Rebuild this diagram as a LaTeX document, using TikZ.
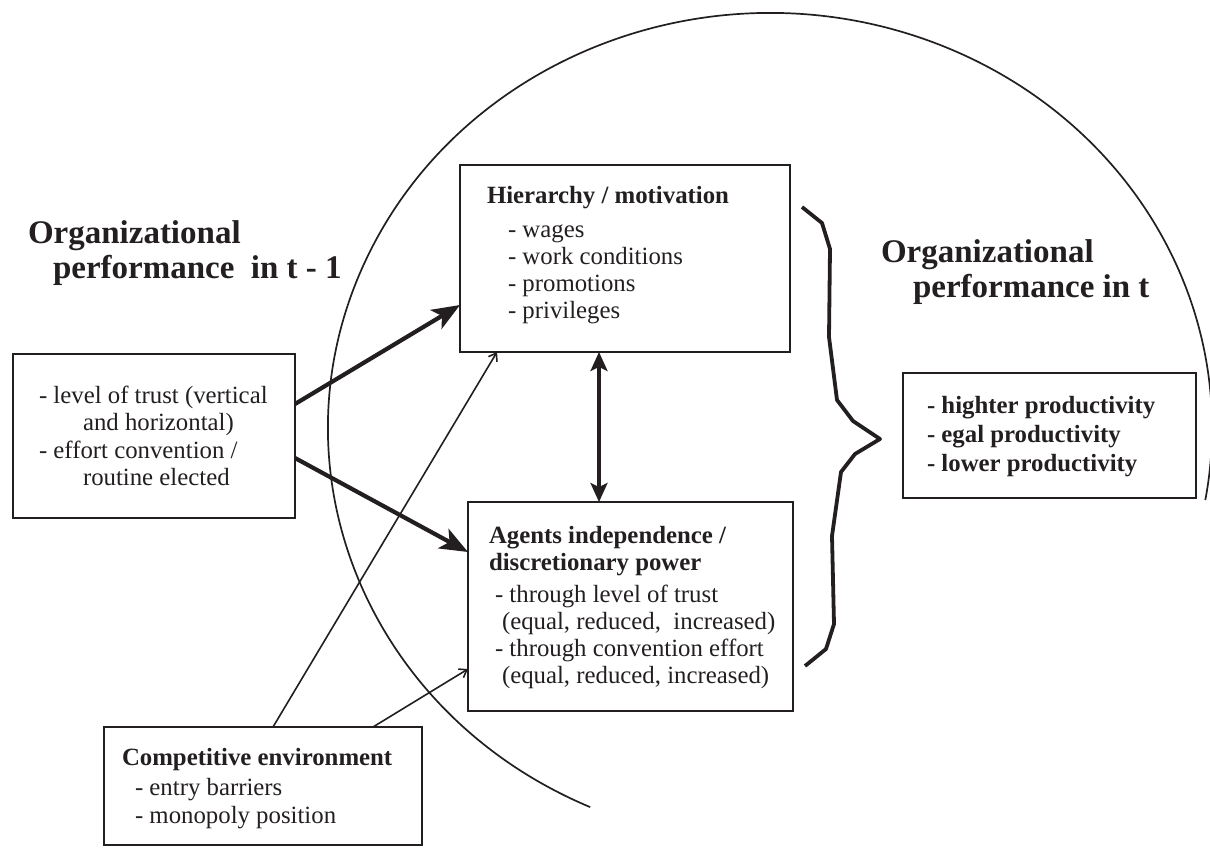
\documentclass[tikz,border=0pt]{standalone}
\usepackage{fontspec}
\setmainfont{Liberation Serif}
\usetikzlibrary{arrows.meta}
\definecolor{ink}{RGB}{35,31,32}
\begin{document}
\begin{tikzpicture}[x=1pt,y=-1pt,
  every node/.style={inner sep=0pt, outer sep=0pt, text=ink},
  frame/.style={draw=ink, line width=1.4pt, rectangle, anchor=north west},
  txt/.style={anchor=base west, font=\fontsize{24.8}{27}\selectfont},
  btxt/.style={anchor=base west, font=\fontsize{24.8}{27}\selectfont\bfseries},
  ttl/.style={anchor=base west, font=\fontsize{33}{35}\selectfont\bfseries},
  thickarrow/.style={draw=ink, line width=4.2pt, -{Stealth[length=28pt,width=22pt,inset=7pt]}},
  dblarrow/.style={draw=ink, line width=3.2pt, {Stealth[length=19pt,width=17pt,inset=4pt]}-{Stealth[length=19pt,width=17pt,inset=4pt]}},
  thinarrow/.style={draw=ink, line width=1.6pt, -{Straight Barb[length=7pt,width=10pt]}}
]
\useasboundingbox (0,0) rectangle (1210,854);
\begin{scope}
\clip (0,0) rectangle (1210,854);
% big ellipse
\draw[ink, line width=1.7pt] ([shift={(114:442 and 415)}]770,428) arc[start angle=114, end angle=370, x radius=442, y radius=415];
\end{scope}

% titles
\node[ttl] (t1a) at (28,243) {Organizational};
\node[ttl] (t1b) at (53,278) {performance~~in t - 1};
\node[ttl] (t2a) at (881,262) {Organizational};
\node[ttl] (t2b) at (913,297) {performance in t};

% left box
\node[frame, minimum width=282pt, minimum height=164pt] (lbox) at (13,354) {};
\node[txt] (l1) at (39,403) {- level of trust (vertical};
\node[txt] (l2) at (83,430) {and horizontal)};
\node[txt] (l3) at (39,458) {- effort convention /};
\node[txt] (l4) at (83,485) {routine elected};

% hierarchy box
\node[frame, minimum width=330pt, minimum height=187pt] (hier) at (460,165) {};
\node[btxt] (h0) at (487,203) {Hierarchy / motivation};
\node[txt] (h1) at (508,237) {- wages};
\node[txt] (h2) at (508,264) {- work conditions};
\node[txt] (h3) at (508,291) {- promotions};
\node[txt] (h4) at (508,318) {- privileges};

% agents box
\node[frame, minimum width=325pt, minimum height=209pt] (agents) at (468,502) {};
\node[btxt] (a0) at (489,543) {Agents independence /};
\node[btxt] (a1) at (489,570) {discretionary power};
\node[txt] (a2) at (495,602) {- through level of trust};
\node[txt] (a3) at (502,629) {(equal, reduced,~ increased)};
\node[txt] (a4) at (495,656) {- through convention effort};
\node[txt] (a5) at (502,683) {(equal, reduced, increased)};

% competitive box
\node[frame, minimum width=318pt, minimum height=118pt] (comp) at (104,727) {};
\node[btxt] (c0) at (122,765) {Competitive environment};
\node[txt] (c1) at (135,795) {- entry barriers};
\node[txt] (c2) at (135,823) {- monopoly position};

% result box
\node[frame, minimum width=293pt, minimum height=125pt] (res) at (903,373) {};
\node[btxt] (r1) at (927,413) {- highter productivity};
\node[btxt] (r2) at (927,442) {- egal productivity};
\node[btxt] (r3) at (927,471) {- lower productivity};

% connectors
\draw[thickarrow] ([yshift=-50pt]lbox.north east) -- ([yshift=-140pt]hier.north west);
\draw[thickarrow] ([yshift=-104pt]lbox.north east) -- ([yshift=-50pt]agents.north west);
\draw[dblarrow] ([xshift=139pt]hier.south west) -- ([xshift=131pt]agents.north west);
\draw[thinarrow] ([xshift=169pt]comp.north west) -- ([xshift=37pt]hier.south west);
\draw[thinarrow] ([xshift=269pt]comp.north west) -- ([yshift=-167pt]agents.north west);

% brace
\draw[ink, line width=3.8pt, line join=round] (802,207) -- (822,223) -- (830,249) -- (829,337) -- (837,400) -- (853,421) -- (880,439) -- (855,454) -- (841,472) -- (832,536) -- (834,624) -- (826,649) -- (805,666);
\end{tikzpicture}
\end{document}
